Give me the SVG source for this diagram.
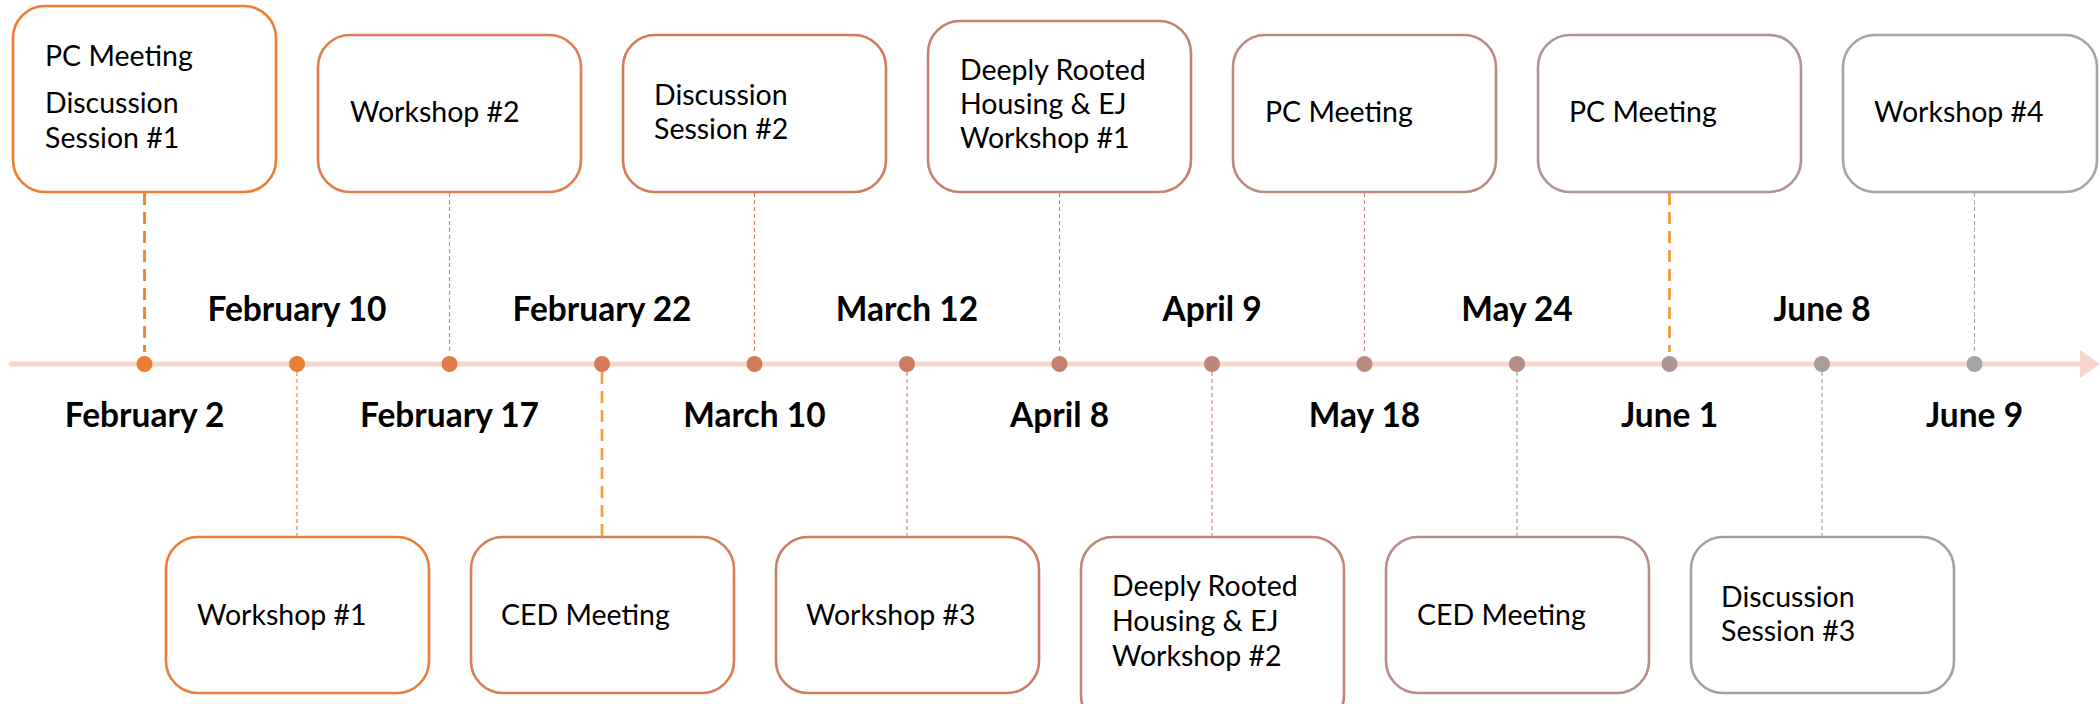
<svg xmlns="http://www.w3.org/2000/svg" width="2100" height="704" viewBox="0 0 2100 704">
<style>
.box{fill:#FFFFFF;stroke-width:2.6}
.t{font-family:Lato,"Liberation Sans",sans-serif;font-size:28.5px;fill:#000000}
.d{font-family:Lato,"Liberation Sans",sans-serif;font-size:33.5px;font-weight:bold;fill:#000000;text-anchor:middle}
.thin{fill:none;stroke-width:1.1;stroke-dasharray:4 3}
.thick{fill:none;stroke-width:2.7;stroke-dasharray:12 7}
</style>
<rect width="2100" height="704" fill="#FFFFFF"/>
<g id="timeline">
<line x1="11" y1="364" x2="2084" y2="364" stroke="#F9D6CC" stroke-width="5" stroke-linecap="round"/>
<polygon points="2080,350 2100,364 2080,378" fill="#F9D6CC"/>
</g>
<g id="connectors">
<line class="thick" x1="144.5" y1="193" x2="144.5" y2="352" stroke="#ED7D31"/>
<line class="thin" x1="297" y1="372" x2="297" y2="536" stroke="#EA7E37"/>
<line class="thin" x1="449.5" y1="193" x2="449.5" y2="352" stroke="#E07E4E"/>
<line class="thick" x1="602" y1="372" x2="602" y2="536" stroke="#F5A037"/>
<line class="thin" x1="754.5" y1="193" x2="754.5" y2="352" stroke="#D37B58"/>
<line class="thin" x1="907" y1="372" x2="907" y2="536" stroke="#CC7D62"/>
<line class="thin" x1="1059.5" y1="193" x2="1059.5" y2="352" stroke="#C6806E"/>
<line class="thin" x1="1212" y1="372" x2="1212" y2="536" stroke="#C08479"/>
<line class="thin" x1="1364.5" y1="193" x2="1364.5" y2="352" stroke="#BA8A82"/>
<line class="thin" x1="1517" y1="372" x2="1517" y2="536" stroke="#B58E88"/>
<line class="thick" x1="1669.5" y1="193" x2="1669.5" y2="352" stroke="#F39A30"/>
<line class="thin" x1="1822" y1="372" x2="1822" y2="536" stroke="#A99D9E"/>
<line class="thin" x1="1974.5" y1="193" x2="1974.5" y2="352" stroke="#A5A5A5"/>
</g>
<g id="dots">
<circle cx="144.5" cy="364" r="8" fill="#ED7D31"/>
<circle cx="297" cy="364" r="8" fill="#EA7E37"/>
<circle cx="449.5" cy="364" r="8" fill="#E07C4A"/>
<circle cx="602" cy="364" r="8" fill="#D67A55"/>
<circle cx="754.5" cy="364" r="8" fill="#D37A5A"/>
<circle cx="907" cy="364" r="8" fill="#CC7D62"/>
<circle cx="1059.5" cy="364" r="8" fill="#C6806E"/>
<circle cx="1212" cy="364" r="8" fill="#C0857A"/>
<circle cx="1364.5" cy="364" r="8" fill="#BA8A82"/>
<circle cx="1517" cy="364" r="8" fill="#B58C86"/>
<circle cx="1669.5" cy="364" r="8" fill="#AE9494"/>
<circle cx="1822" cy="364" r="8" fill="#A89C9D"/>
<circle cx="1974.5" cy="364" r="8" fill="#A5A5A5"/>
</g>
<g id="dates">
<text class="d" x="144.5" y="427">February 2</text>
<text class="d" x="297" y="321">February 10</text>
<text class="d" x="449.5" y="427">February 17</text>
<text class="d" x="602" y="321">February 22</text>
<text class="d" x="754.5" y="427">March 10</text>
<text class="d" x="907" y="321">March 12</text>
<text class="d" x="1059.5" y="427">April 8</text>
<text class="d" x="1212" y="321">April 9</text>
<text class="d" x="1364.5" y="427">May 18</text>
<text class="d" x="1517" y="321">May 24</text>
<text class="d" x="1669.5" y="427">June 1</text>
<text class="d" x="1822" y="321">June 8</text>
<text class="d" x="1974.5" y="427">June 9</text>
</g>
<g id="n-feb2">
<rect class="box" x="13" y="6" width="263" height="186" rx="32" stroke="#ED7D31"/>
<text class="t" x="45" y="66">PC Meeting</text>
<text class="t" x="45" y="113">Discussion</text>
<text class="t" x="45" y="148">Session #1</text>
</g>
<g id="n-feb10">
<rect class="box" x="166" y="537" width="263" height="156" rx="32" stroke="#EA7E37"/>
<text class="t" x="197" y="625">Workshop #1</text>
</g>
<g id="n-feb17">
<rect class="box" x="318" y="35" width="263" height="157" rx="32" stroke="#E07E4E"/>
<text class="t" x="350" y="122">Workshop #2</text>
</g>
<g id="n-feb22">
<rect class="box" x="471" y="537" width="263" height="156" rx="32" stroke="#D67D5A"/>
<text class="t" x="501" y="625">CED Meeting</text>
</g>
<g id="n-mar10">
<rect class="box" x="623" y="35" width="263" height="157" rx="32" stroke="#D37B58"/>
<text class="t" x="654" y="105">Discussion</text>
<text class="t" x="654" y="139">Session #2</text>
</g>
<g id="n-mar12">
<rect class="box" x="776" y="537" width="263" height="156" rx="32" stroke="#CC7D62"/>
<text class="t" x="806" y="625">Workshop #3</text>
</g>
<g id="n-apr8">
<rect class="box" x="928" y="21" width="263" height="171" rx="32" stroke="#C6806E"/>
<text class="t" x="960" y="80">Deeply Rooted</text>
<text class="t" x="960" y="114">Housing &amp; EJ</text>
<text class="t" x="960" y="148">Workshop #1</text>
</g>
<g id="n-apr9">
<rect class="box" x="1081" y="537" width="263" height="190" rx="32" stroke="#C08479"/>
<text class="t" x="1112" y="596">Deeply Rooted</text>
<text class="t" x="1112" y="631">Housing &amp; EJ</text>
<text class="t" x="1112" y="666">Workshop #2</text>
</g>
<g id="n-may18">
<rect class="box" x="1233" y="35" width="263" height="157" rx="32" stroke="#BA8A82"/>
<text class="t" x="1265" y="122">PC Meeting</text>
</g>
<g id="n-may24">
<rect class="box" x="1386" y="537" width="263" height="156" rx="32" stroke="#B58E88"/>
<text class="t" x="1417" y="625">CED Meeting</text>
</g>
<g id="n-jun1">
<rect class="box" x="1538" y="35" width="263" height="157" rx="32" stroke="#AE9593"/>
<text class="t" x="1569" y="122">PC Meeting</text>
</g>
<g id="n-jun8">
<rect class="box" x="1691" y="537" width="263" height="156" rx="32" stroke="#A99D9E"/>
<text class="t" x="1721" y="607">Discussion</text>
<text class="t" x="1721" y="641">Session #3</text>
</g>
<g id="n-jun9">
<rect class="box" x="1843" y="35" width="254" height="157" rx="32" stroke="#A5A5A5"/>
<text class="t" x="1874" y="122">Workshop #4</text>
</g>
</svg>
